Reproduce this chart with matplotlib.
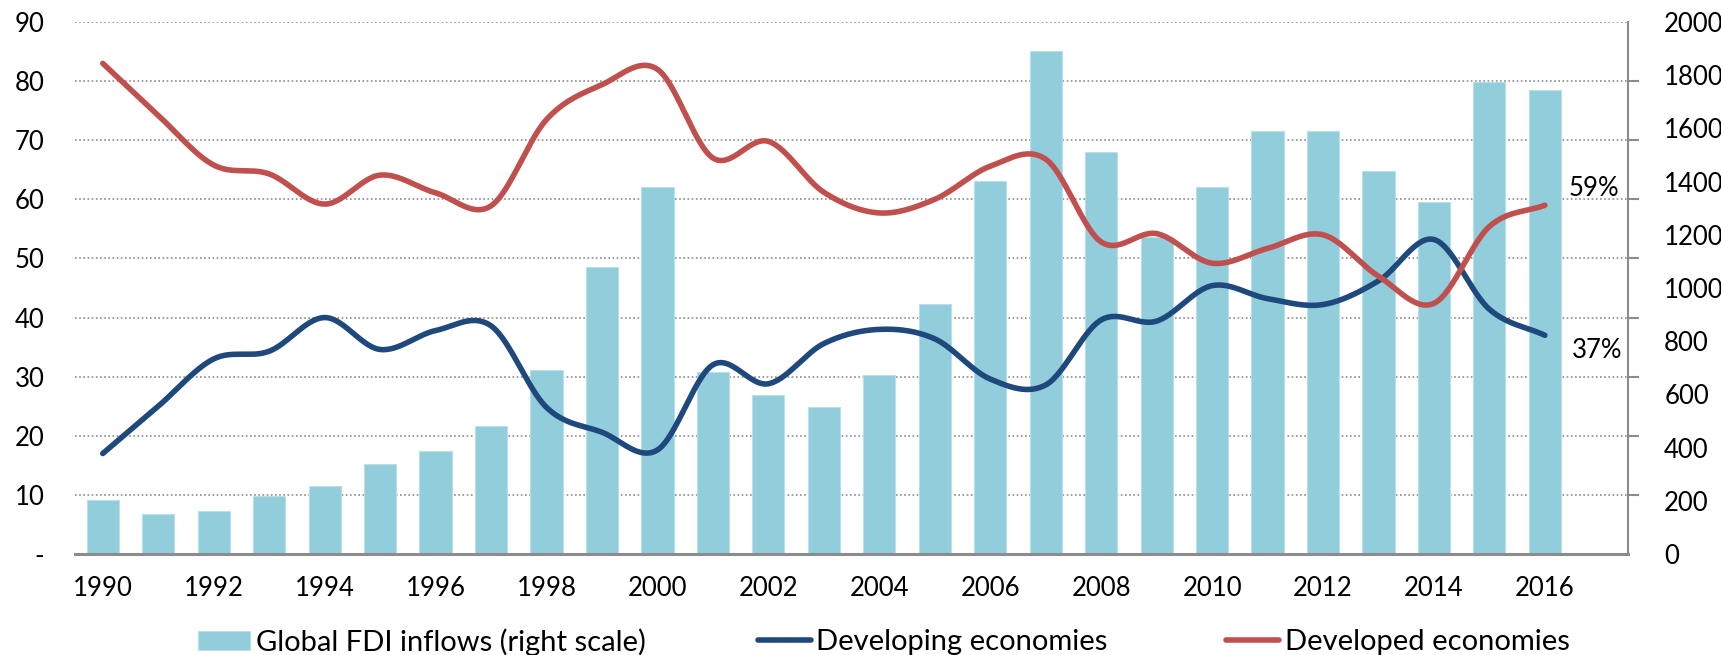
import numpy as np
import matplotlib
matplotlib.use("Agg")
import matplotlib.pyplot as plt

plt.rcParams['font.family'] = ['Lato', 'DejaVu Sans']

years = list(range(1990, 2017))
fdi_inflows = [203, 152, 162, 219, 254, 340, 387, 480, 690, 1080, 1380, 685, 596, 552,
               674, 941, 1402, 1891, 1510, 1190, 1378, 1592, 1590, 1440, 1323, 1774, 1746]
developing = [17.0, 25.0, 33.0, 34.3, 40.0, 34.6, 37.8, 38.6, 24.8, 20.6, 17.6, 32.0, 28.8, 35.6,
              38.0, 36.4, 29.6, 28.6, 39.6, 39.4, 45.4, 43.2, 42.2, 46.2, 53.2, 41.4, 37.0]
developed = [83.0, 74.2, 65.8, 64.3, 59.2, 64.1, 61.1, 58.9, 73.5, 79.4, 82.0, 67.0, 69.8, 61.2,
             57.7, 60.0, 65.6, 66.8, 52.8, 54.2, 49.2, 51.7, 54.0, 47.0, 42.4, 55.4, 59.0]

left_ticks = list(range(0, 100, 10))
right_ticks = list(range(0, 2200, 200))
year_ticks = list(range(1990, 2017, 2))

BAR = '#92CDDC'
BLUE = '#1F497D'
RED = '#C0504D'
GRAY = '#8C8C8C'
FS = 18.5


def smooth(x, y, n=30):
    # Catmull-Rom curve through every point, like a smoothed line in a spreadsheet
    x = np.asarray(x, float)
    y = np.asarray(y, float)
    px = np.concatenate([[2 * x[0] - x[1]], x, [2 * x[-1] - x[-2]]])
    py = np.concatenate([[2 * y[0] - y[1]], y, [2 * y[-1] - y[-2]]])
    xs, ys = [], []
    t = np.linspace(0, 1, n, endpoint=False)
    for i in range(1, len(px) - 2):
        p0, p1, p2, p3 = px[i - 1], px[i], px[i + 1], px[i + 2]
        q0, q1, q2, q3 = py[i - 1], py[i], py[i + 1], py[i + 2]
        c1x, c1y = p1 + (p2 - p0) / 6, q1 + (q2 - q0) / 6
        c2x, c2y = p2 - (p3 - p1) / 6, q2 - (q3 - q1) / 6
        b = [(1 - t) ** 3, 3 * (1 - t) ** 2 * t, 3 * (1 - t) * t ** 2, t ** 3]
        xs.append(b[0] * p1 + b[1] * c1x + b[2] * c2x + b[3] * p2)
        ys.append(b[0] * q1 + b[1] * c1y + b[2] * c2y + b[3] * q2)
    xs.append([x[-1]])
    ys.append([y[-1]])
    return np.concatenate(xs), np.concatenate(ys)


fig = plt.figure(figsize=(17.21, 6.55), dpi=100)
ax2 = fig.add_axes([0.0436, 0.1542, 0.9024, 0.8122])
ax = ax2.twinx()
ax.yaxis.tick_left()
ax2.yaxis.tick_right()

# bars on the right scale
ax2.set_ylim(0, 2000)
for k in range(1, 10):
    ax2.axhline(k * 2000 / 9, color=GRAY, lw=1.2, ls=(0, (1, 1.5)), zorder=0)
bars = ax2.bar(years, fdi_inflows, width=0.58, color=BAR, edgecolor='#B8E0EA',
               linewidth=0.8, zorder=2, label='Global FDI inflows (right scale)')
ax2.set_yticks(right_ticks)
ax2.set_yticklabels([str(v) for v in right_ticks], fontsize=FS)
ax2.tick_params(axis='y', which='major', length=0, pad=26)
ax2.set_yticks([k * 2000 / 9 for k in range(10)], minor=True)
ax2.tick_params(axis='y', which='minor', length=8, width=1.5, color=GRAY, direction='out')

# lines on the left scale
ax.set_ylim(0, 90)
xs, ys = smooth(years, developing)
l1, = ax.plot(xs, ys, color=BLUE, lw=4, solid_capstyle='round', label='Developing economies')
xs, ys = smooth(years, developed)
l2, = ax.plot(xs, ys, color=RED, lw=4, solid_capstyle='round', label='Developed economies')
ax.set_yticks(left_ticks)
ax.set_yticklabels(['-'] + [str(v) for v in left_ticks[1:]], fontsize=FS)
ax.tick_params(axis='y', length=0, pad=22)

ax.annotate(f'{developed[-1]:.0f}%', (years[-1], developed[-1]), xytext=(24, 17),
            textcoords='offset pixels', fontsize=FS, va='center', ha='left')
ax.annotate(f'{developing[-1]:.0f}%', (years[-1], developing[-1]), xytext=(27, -15),
            textcoords='offset pixels', fontsize=FS, va='center', ha='left')

ax2.set_xlim(1989.5, 2017.5)
ax2.set_xticks(year_ticks)
ax2.set_xticklabels([str(y) for y in year_ticks], fontsize=FS)
ax2.tick_params(axis='x', length=0, pad=16)

for a in (ax, ax2):
    for s in ('top', 'left', 'right', 'bottom'):
        a.spines[s].set_visible(False)
ax2.spines['right'].set_visible(True)
ax2.spines['right'].set_color(GRAY)
ax2.spines['right'].set_linewidth(1.5)
ax2.spines['bottom'].set_visible(True)
ax2.spines['bottom'].set_color(GRAY)
ax2.spines['bottom'].set_linewidth(2.2)

# legend entries spread across the bottom, one box each
for handle, x0 in zip([bars, l1, l2], [0.115, 0.4405, 0.7125]):
    fig.legend(handles=[handle], loc='center left', bbox_to_anchor=(x0, 0.02),
               frameon=False, fontsize=21, handlelength=1.8, handleheight=0.6,
               handletextpad=0.2, borderpad=0, borderaxespad=0)

fig.savefig('out.png', dpi=100)
